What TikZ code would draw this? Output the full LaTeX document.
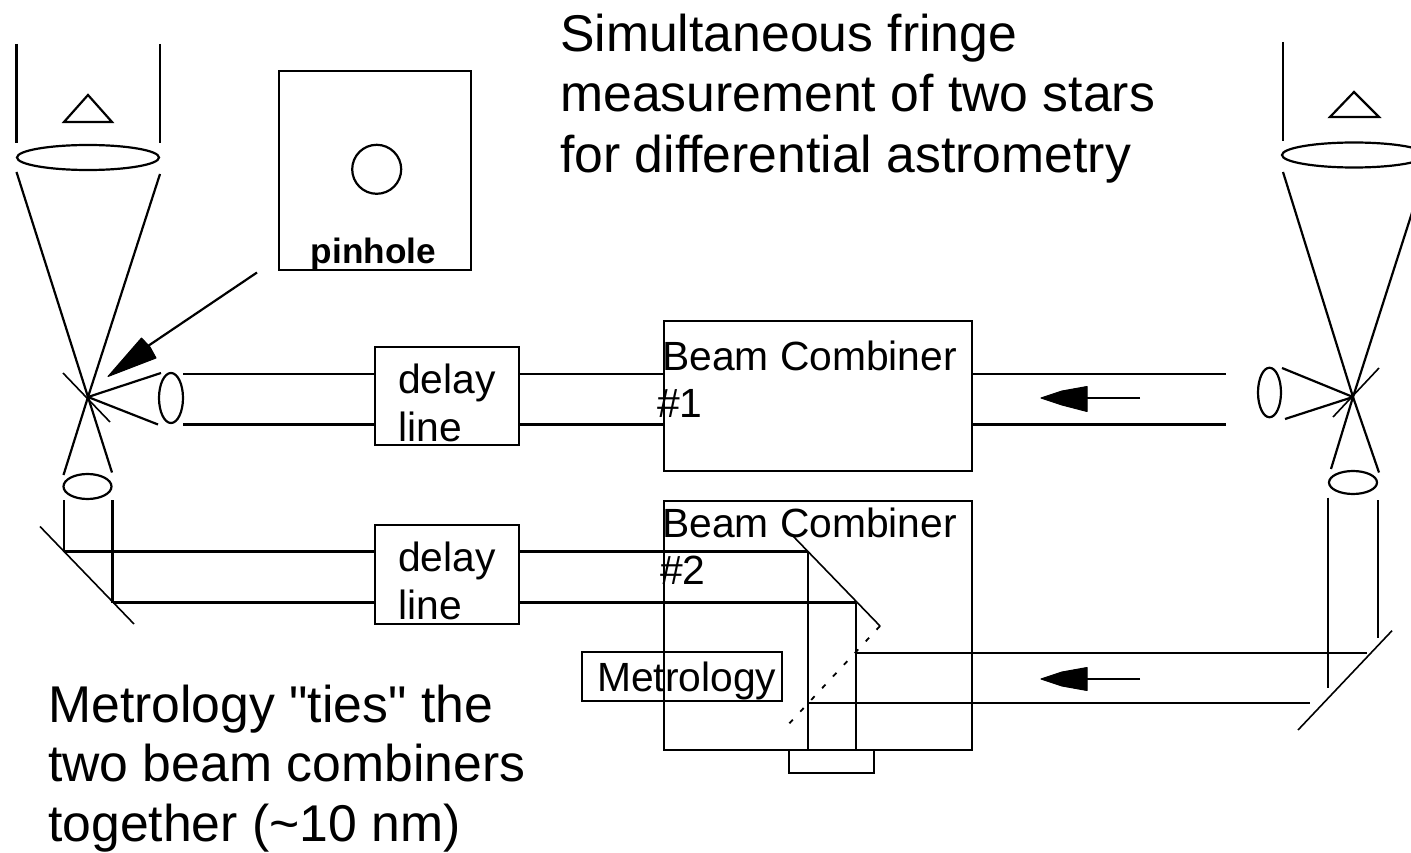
\documentclass[tikz,border=0pt]{standalone}
\usepackage{fontspec}
\setmainfont{Liberation Sans}
\newfontfamily\plainf{Liberation Sans}
\usetikzlibrary{shapes.geometric,calc}
\tikzset{
  ln/.style={line width=2.2pt,draw=black},
  box/.style={ln,rectangle,inner sep=0pt,fill=none},
  lbl/.style={inner sep=0pt,anchor=base west,font=\fontsize{40.8}{46}\selectfont},
  big/.style={inner sep=0pt,anchor=base west,align=left,font=\fontsize{51.7}{60.5}\selectfont},
  head/.style={fill=black,draw=black,line width=1pt,line join=round}
}
\begin{document}
\begin{tikzpicture}[x=1pt,y=-1pt]
\clip (0,0) rectangle (1411,853);
\fill[white] (0,0) rectangle (1411,853);

% named points
\coordinate (fL) at (88,397);
\coordinate (fR) at (1353,397);

% left telescope
\draw[ln] (16.5,44) coordinate (tla) -- (16.5,143) coordinate (tlb);
\draw[ln] (160,44) coordinate (tlc) -- (160,143) coordinate (tld);
\draw[ln,line join=miter] (88,95) -- (112,122) -- (64,122) -- cycle;
\node[ln,ellipse,inner sep=0pt,minimum width=142pt,minimum height=25pt] (obL) at (88,157.5) {};
\coordinate (c1) at (16.5,172); \coordinate (c2) at (160,174);
\draw[ln] (c1) -- (fL); \draw[ln] (c2) -- (fL);
\coordinate (c3) at (63.5,475); \coordinate (c4) at (112,472.5);
\draw[ln] (fL) -- (c3); \draw[ln] (fL) -- (c4);
\coordinate (c5) at (63,373); \coordinate (c6) at (110,422);
\draw[ln,line width=1.6pt] (c5) -- (c6);
\coordinate (c7) at (161,373); \coordinate (c8) at (158,424.5);
\draw[ln] (fL) -- (c7); \draw[ln] (fL) -- (c8);
\node[ln,ellipse,inner sep=0pt,minimum width=24pt,minimum height=50pt] (lensLa) at (171,398) {};
\node[ln,ellipse,inner sep=0pt,minimum width=48pt,minimum height=25pt] (lensLb) at (87.5,486.5) {};

% right telescope
\draw[ln] (1283,42) -- (1283,141);
\draw[ln,line join=miter] (1354,92) -- (1379,117) -- (1330,117) -- cycle;
\node[ln,ellipse,inner sep=0pt,minimum width=144pt,minimum height=25pt] (obR) at (1354,155) {};
\coordinate (r1) at (1283,172); \coordinate (r2) at (1425,172);
\draw[ln] (r1) -- (fR); \draw[ln] (r2) -- (fR);
\coordinate (r3) at (1331,469); \coordinate (r4) at (1379,472.5);
\draw[ln] (fR) -- (r3); \draw[ln] (fR) -- (r4);
\coordinate (r5) at (1379,368); \coordinate (r6) at (1333,417);
\draw[ln,line width=1.6pt] (r5) -- (r6);
\coordinate (r7) at (1282,368); \coordinate (r8) at (1285,419);
\draw[ln] (fR) -- (r7); \draw[ln] (fR) -- (r8);
\node[ln,ellipse,inner sep=0pt,minimum width=23pt,minimum height=49.5pt] (lensRa) at (1269.5,392.5) {};
\node[ln,ellipse,inner sep=0pt,minimum width=48pt,minimum height=23pt] (lensRb) at (1353,482.5) {};

% pinhole panel
\node[box,minimum width=192pt,minimum height=199pt] (pin) at (375,170.5) {};
\node[ln,circle,inner sep=0pt,minimum size=49pt] (hole) at (376.7,169.3) {};
\node[inner sep=0pt,anchor=base,font=\fontsize{35.2}{40}\selectfont\bfseries] (pinlbl) at (373.5,263) {pinhole};
\coordinate (pa) at (257,272.5); \coordinate (pb) at (148,346);
\draw[ln] (pa) -- (pb);
\fill[head] (108,376.5) -- (141.5,338) -- (150,347) -- (156,358) -- cycle;

% boxes
\node[box,minimum width=144pt,minimum height=98pt] (d1) at (447,396) {};
\node[box,minimum width=144pt,minimum height=99pt] (d2) at (447,574.5) {};
\node[box,minimum width=308pt,minimum height=150pt] (bc1) at (818,396) {};
\node[box,minimum width=308pt,minimum height=249.5pt] (bc2) at (818,625.5) {};
\node[box,minimum width=85pt,minimum height=22.5pt] (det) at (831.5,761.5) {};
\node[box,minimum width=200pt,minimum height=48.5pt] (met) at (681.7,676.5) {};

% upper beams
\coordinate (u1) at (183,374); \coordinate (u2) at (183,424.5);
\draw[ln] (u1) -- (u1 -| d1.west); \draw[ln] (u2) -- (u2 -| d1.west);
\draw[ln] (u1 -| d1.east) -- (u1 -| bc1.west); \draw[ln] (u2 -| d1.east) -- (u2 -| bc1.west);
\coordinate (u3) at (1226,374); \coordinate (u4) at (1226,424.5);
\draw[ln] (u3 -| bc1.east) -- (u3); \draw[ln] (u4 -| bc1.east) -- (u4);

% lower left beams
\coordinate (m1) at (64,551.5); \coordinate (m2) at (112.5,602.5);
\coordinate (v1) at (64,500); \coordinate (v2) at (112.5,500);
\draw[ln] (v1) -- (m1); \draw[ln] (v2) -- (m2);
\coordinate (ms1) at (40,526.5); \coordinate (ms2) at (134,624);
\draw[ln,line width=1.6pt] (ms1) -- (ms2);
\draw[ln] (m1) -- (m1 -| d2.west); \draw[ln] (m2) -- (m2 -| d2.west);

% beams through combiner 2
\coordinate (n1) at (807.7,551.5); \coordinate (n2) at (855.7,602.5);
\draw[ln] (m1 -| d2.east) -- (n1); \draw[ln] (m2 -| d2.east) -- (n2);
\draw[ln] (n1) -- (n1 |- bc2.south); \draw[ln] (n2) -- (n2 |- bc2.south);
\coordinate (ms3) at (792,535); \coordinate (ms4) at (880,626);
\draw[ln,line width=1.6pt] (ms3) -- (ms4);
\coordinate (ms5) at (786,727);
\draw[ln,line width=1.8pt,dash pattern=on 5pt off 11pt] (ms4) -- (ms5);

% lower right beams
\coordinate (q1) at (856,652.7); \coordinate (q2) at (808,702.7);
\coordinate (q3) at (1366.7,652.7); \coordinate (q4) at (1310,702.7);
\draw[ln] (q1) -- (q3); \draw[ln] (q2) -- (q4);
\coordinate (w1) at (1327.7,497.7); \coordinate (w2) at (1327.7,688);
\coordinate (w3) at (1378,500); \coordinate (w4) at (1378,637.7);
\draw[ln] (w1) -- (w2); \draw[ln] (w3) -- (w4);
\coordinate (ms6) at (1392,630.7); \coordinate (ms7) at (1298,730);
\draw[ln,line width=1.6pt] (ms6) -- (ms7);

% flow arrows
\coordinate (a1) at (1140,398); \coordinate (a1h) at (1087,398);
\draw[ln] (a1) -- (a1h);
\fill[head] (1041,398) -- (1062,391) -- (1087,386.5) -- (1087,411.5) -- (1062,405) -- cycle;
\coordinate (a2) at (1140,679); \coordinate (a2h) at (1087,679);
\draw[ln] (a2) -- (a2h);
\fill[head] (1041,679) -- (1062,672) -- (1087,667.5) -- (1087,690.5) -- (1062,686) -- cycle;

% labels
\node[big] (t1) at (560,52) {Simultaneous fringe};
\node[big] (t2) at (560,112) {measurement of two stars};
\node[big] (t3) at (560,173) {for differential astrometry};
\node[big] (t4) at (48,722) {\plainf Metrology "ties" the};
\node[big] (t5) at (48,781) {two beam combiners};
\node[big] (t6) at (48,841) {together (\char"7E 10 nm)};
\node[lbl] (l1) at (662,370) {Beam Combiner};
\node[lbl] (l2) at (657,417) {\#1};
\node[lbl] (l3) at (662,537) {Beam Combiner};
\node[lbl] (l4) at (660,584) {\#2};
\node[lbl] (l5) at (398,393) {delay};
\node[lbl] (l6) at (398,441) {line};
\node[lbl] (l7) at (398,571) {delay};
\node[lbl] (l8) at (398,619) {line};
\node[lbl] (l9) at (597,691) {Metrology};
\end{tikzpicture}
\end{document}
